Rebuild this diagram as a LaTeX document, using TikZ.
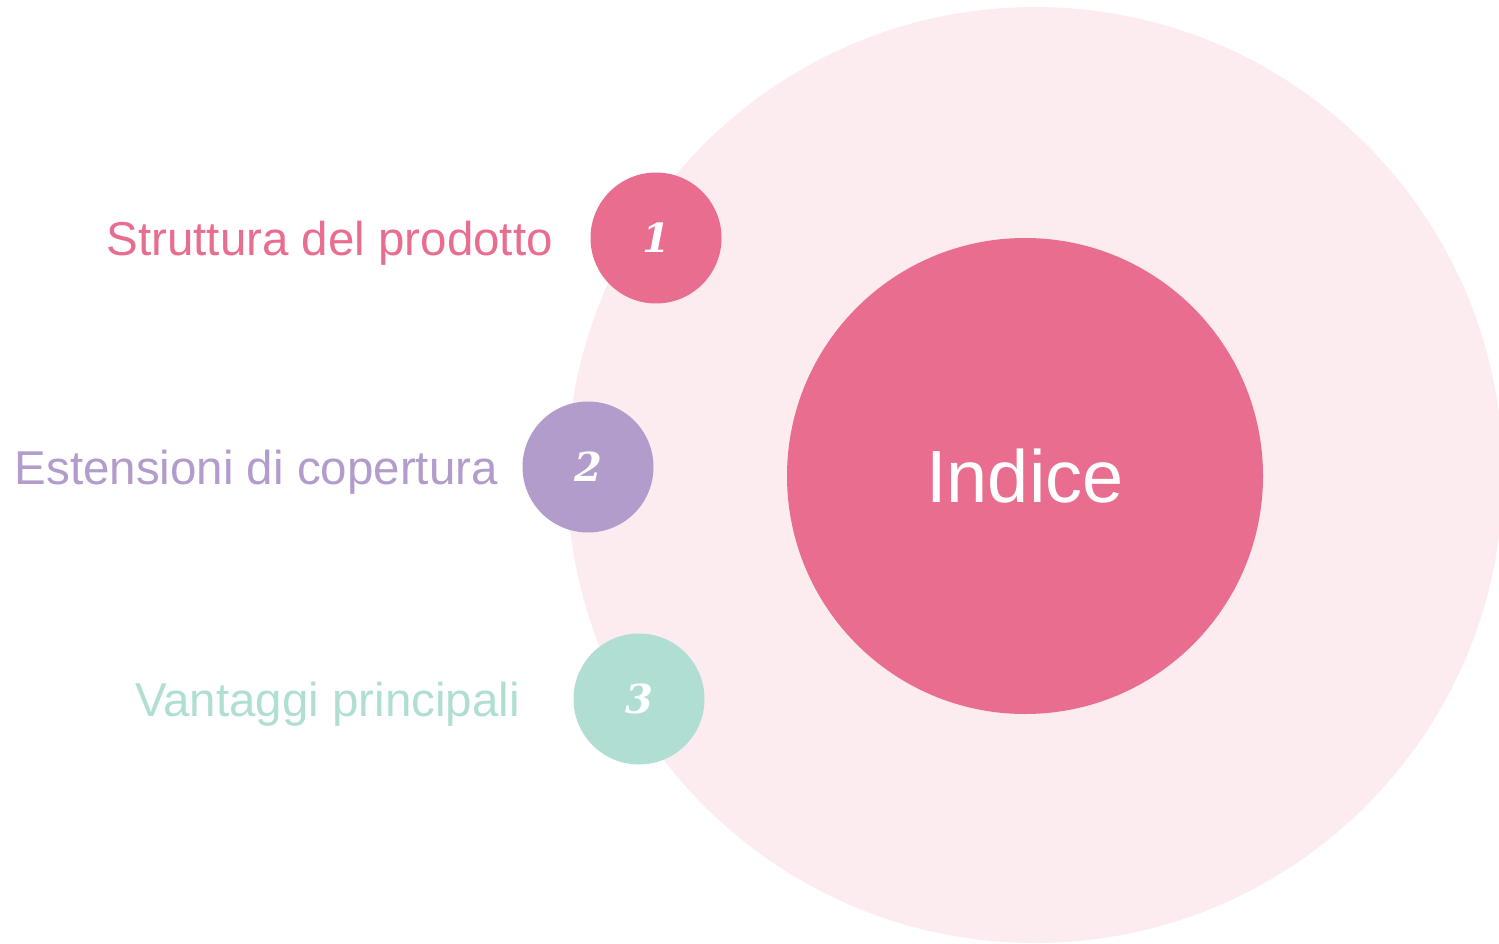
\documentclass[tikz,border=0pt]{standalone}
\usepackage{fontspec}
\setmainfont{Liberation Sans}
\newfontfamily\numfont{DejaVu Serif}
\definecolor{pinkc}{HTML}{E96D8F}
\definecolor{lightpink}{HTML}{FCECF0}
\definecolor{purplec}{HTML}{B19CCB}
\definecolor{mintc}{HTML}{B0DED3}
\tikzset{
  numcircle/.style={circle, inner sep=0pt, minimum size=131pt, text=white,
    font=\numfont\fontsize{40}{42}\selectfont\bfseries\itshape},
  label text/.style={anchor=base east, inner sep=0pt, font=\fontsize{47.5}{50}\selectfont},
}
\begin{document}
\begin{tikzpicture}[x=1pt,y=-1pt]
\useasboundingbox (0,0) rectangle (1499,944);
\clip (0,0) rectangle (1499,944);
\node[circle, fill=lightpink, minimum size=936pt, inner sep=0pt] (outer) at (1035,475) {};
\node[circle, fill=pinkc, minimum size=476pt, inner sep=0pt, text=white,
  font=\fontsize{74}{76}\selectfont] (indice) at (1025,476) {Indice};
\node[numcircle, fill=pinkc] (n1) at (656,238) {1};
\node[numcircle, fill=purplec] (n2) at (588,467) {2};
\node[numcircle, fill=mintc] (n3) at (639,699) {3};
\node[label text, text=pinkc] (t1) at (553,255) {Struttura del prodotto};
\node[label text, text=purplec] (t2) at (498,484) {Estensioni di copertura};
\node[label text, text=mintc] (t3) at (520,716) {Vantaggi principali};
\end{tikzpicture}
\end{document}
